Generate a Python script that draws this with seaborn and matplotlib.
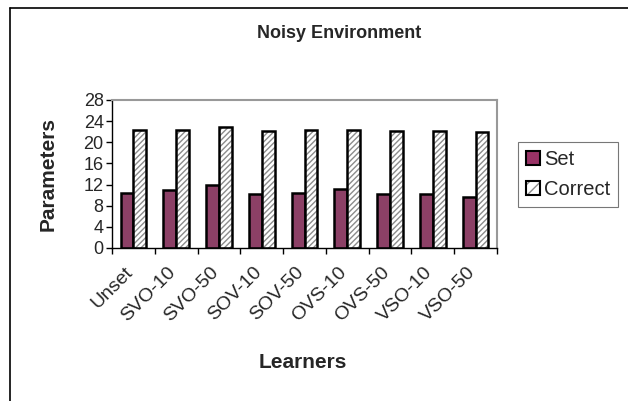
import numpy as np
import pandas as pd
import matplotlib
matplotlib.use("Agg")
import matplotlib.pyplot as plt
import matplotlib.patches as mpatches
import matplotlib.transforms as mtransforms
import seaborn as sns

# values
learners = ['Unset', 'SVO-10', 'SVO-50', 'SOV-10', 'SOV-50',
            'OVS-10', 'OVS-50', 'VSO-10', 'VSO-50']
set_vals = [10.5, 11.0, 11.9, 10.2, 10.4, 11.1, 10.2, 10.3, 9.7]
correct_vals = [22.4, 22.4, 22.9, 22.2, 22.4, 22.4, 22.2, 22.2, 21.9]
yticks = [0, 4, 8, 12, 16, 20, 24, 28]

df = pd.DataFrame({
    'Learners': learners * 2,
    'Parameters': set_vals + correct_vals,
    'Series': ['Set'] * len(learners) + ['Correct'] * len(learners),
})

sns.set_theme(style='white')
plt.rcParams['font.family'] = ['Liberation Sans', 'DejaVu Sans']

plum = '#993366'
hatch_grey = (0.55, 0.55, 0.55, 1.0)

fig = plt.figure(figsize=(6.28, 4.01), dpi=100)
ax = fig.add_axes([112 / 628, 1 - 248 / 401, 385 / 628, 148 / 401])

sns.barplot(data=df, x='Learners', y='Parameters', hue='Series',
            palette={'Set': plum, 'Correct': 'white'},
            width=0.6, gap=0, edgecolor='black', linewidth=1.8,
            legend=False, ax=ax)

# hatch the Correct bars with a grey diagonal pattern
for p in ax.containers[1]:
    p.set_hatch('//////')
    p._hatch_color = hatch_grey
    p.stale = True

ax.set_ylim(0, 28)
ax.set_yticks(yticks)
ax.set_yticklabels([str(t) for t in yticks], fontsize=13)
ax.set_xlim(-0.5, len(learners) - 0.5)

# category-boundary ticks, labels at the centers
ax.set_xticks(np.arange(len(learners) + 1) - 0.5)
ax.set_xticklabels([])
ax.set_xticks(np.arange(len(learners)), minor=True)
ax.set_xticklabels(learners, minor=True, rotation=45, ha='right',
                   rotation_mode='anchor', fontsize=14)
ax.tick_params(axis='x', which='minor', length=0, pad=11)
ax.tick_params(axis='x', which='major', direction='out', length=4,
               width=1, color='black', bottom=True)
ax.tick_params(axis='y', direction='out', length=4, width=1,
               color='black', left=True, pad=2)

# nudge the slanted labels a little to the left, like the original
shift = mtransforms.ScaledTranslation(-9 / 100, 0, fig.dpi_scale_trans)
for lab in ax.get_xticklabels(minor=True):
    lab.set_transform(lab.get_transform() + shift)

for side in ['left', 'bottom']:
    ax.spines[side].set_color('black')
    ax.spines[side].set_linewidth(1)
for side in ['top', 'right']:
    ax.spines[side].set_color('#999999')
    ax.spines[side].set_linewidth(1.5)

ax.set_xlabel('Learners', fontsize=15, fontweight='bold')
ax.xaxis.set_label_coords((303 - 112) / 385, -(362 - 248) / 148)
ax.xaxis.label.set_verticalalignment('center')
ax.set_ylabel('Parameters', fontsize=15, fontweight='bold')
ax.yaxis.set_label_coords(-(112 - 48) / 385, 0.5)
ax.yaxis.label.set_verticalalignment('center')

fig.text(339 / 628, 1 - 34 / 401, 'Noisy Environment', ha='center',
         va='center', fontsize=13, fontweight='bold')

handles = [
    mpatches.Patch(facecolor=plum, edgecolor='black', linewidth=1.5, label='Set'),
    mpatches.Patch(facecolor='white', edgecolor='black', linewidth=1.5,
                   hatch='///', label='Correct'),
]
leg = fig.legend(handles=handles, loc='center left',
                 bbox_to_anchor=(518 / 628, 1 - 174.5 / 401),
                 fontsize=14.5, frameon=True, fancybox=False,
                 handlelength=0.7, handleheight=0.7, handletextpad=0.2,
                 labelspacing=0.55, borderpad=0.4, borderaxespad=0)
leg.get_frame().set_edgecolor('#555555')
leg.get_frame().set_linewidth(0.8)
leg.legend_handles[1]._hatch_color = hatch_grey

# chart area frame, only top and left edges visible in the crop
fig.add_artist(plt.Line2D([10 / 628, 1], [1 - 8 / 401, 1 - 8 / 401],
                          color='black', lw=1.2, transform=fig.transFigure))
fig.add_artist(plt.Line2D([10 / 628, 10 / 628], [0, 1 - 8 / 401],
                          color='black', lw=1.2, transform=fig.transFigure))

fig.savefig('out.png', dpi=100)
